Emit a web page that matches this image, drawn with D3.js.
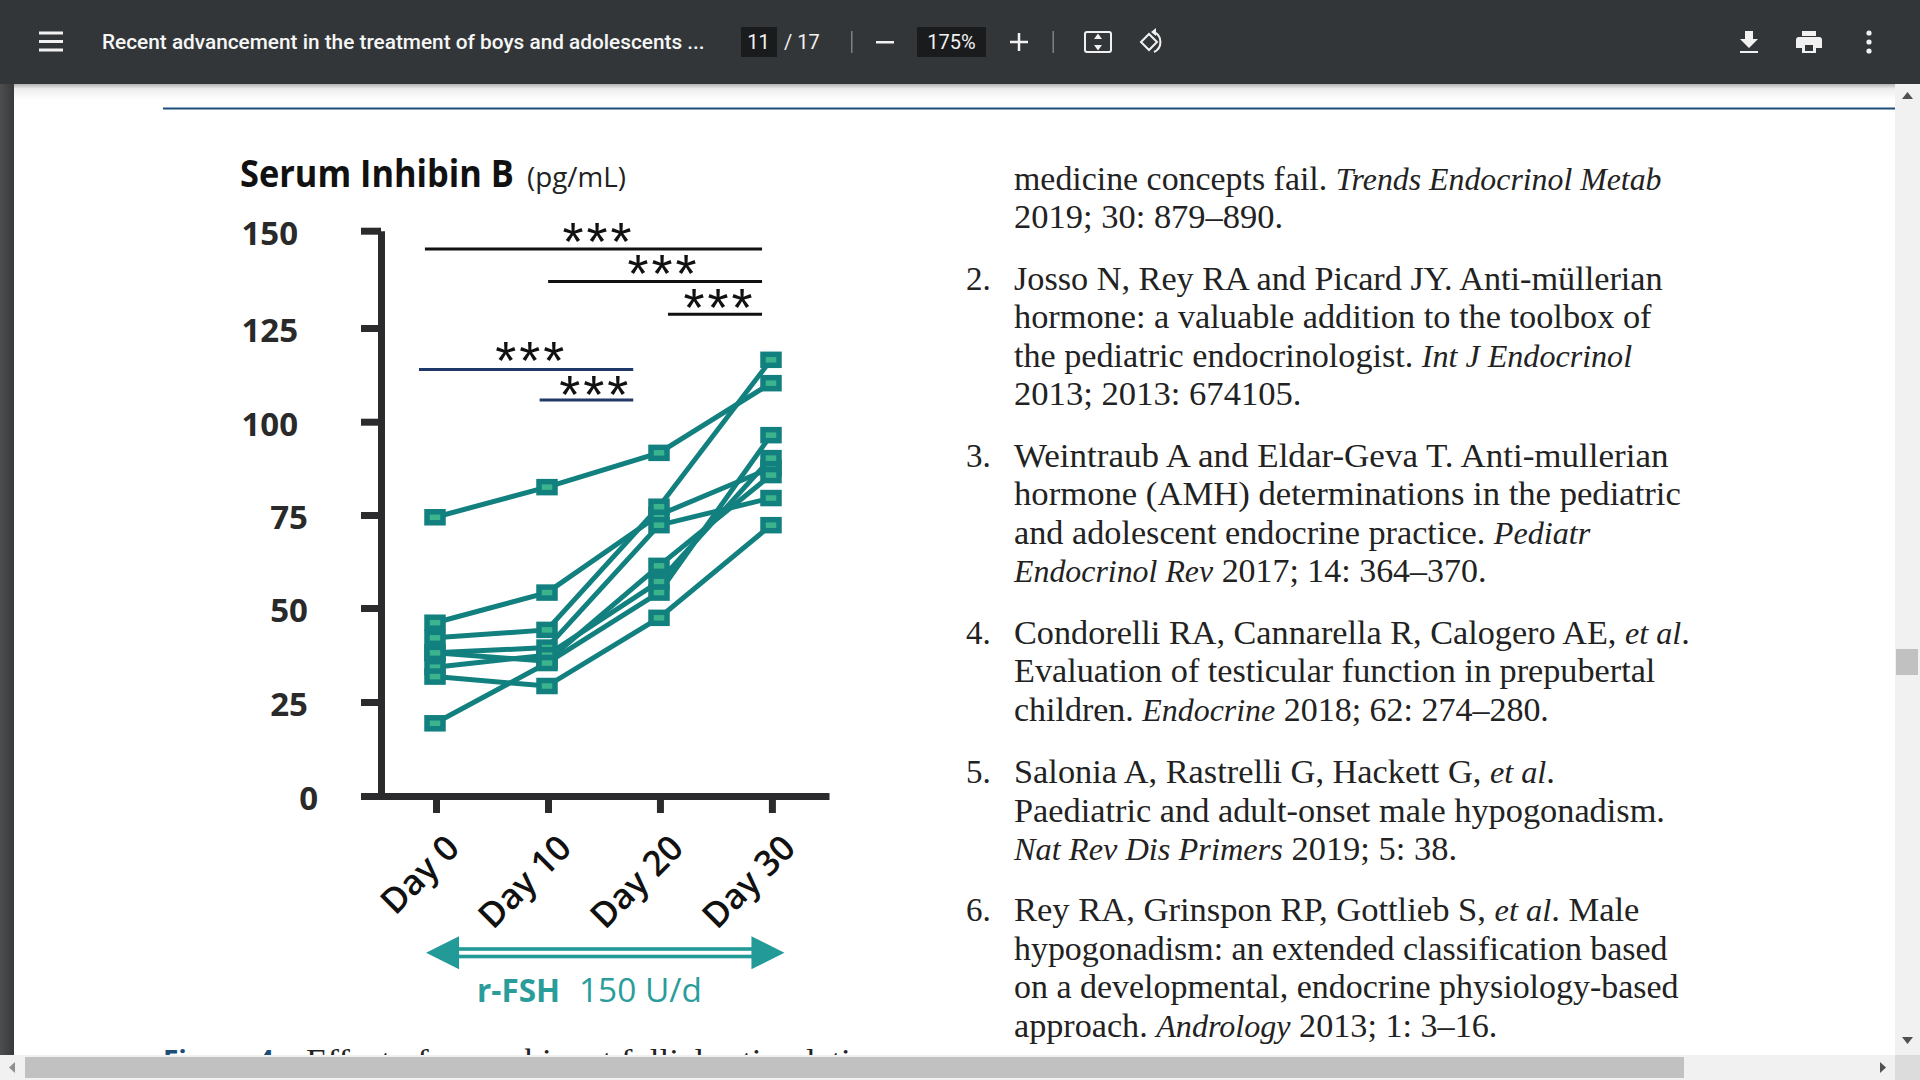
<!DOCTYPE html>
<html>
<head>
<meta charset="utf-8">
<script src="https://cdn.jsdelivr.net/npm/d3@7/dist/d3.min.js"></script>
<style>
html, body { margin: 0; padding: 0; background: #fff; overflow: hidden; }
svg { display: block; }
</style>
</head>
<body>
<svg width="1920" height="1080"></svg>
<script>
const svg = d3.select("svg")
const sans = "'Open Sans', sans-serif"
const teal = "#12807f"

// inhibin B per boy, pg/mL at day 0, 10, 20, 30
const days = [0, 10, 20, 30]
const boys = [
    [74.0, 82.0, 91.1, 109.6],
    [46.0, 54.0, 74.6, 87.1],
    [42.0, 44.1, 76.8, 115.8],
    [38.0, 39.4, 71.9, 79.1],
    [38.0, 35.8, 61.1, 85.2],
    [34.2, 37.4, 56.9, 89.7],
    [19.3, 35.3, 54.0, 95.8],
    [31.7, 29.2, 47.3, 71.9]
]
// significance bars, ends in days and height in pg/mL
const sigBars = [
    {from: -0.9, to: 29.2, level: 145.2, color: "#111", starDay: 14.6, starLevel: 149.2},
    {from: 10.1, to: 29.2, level: 136.6, color: "#111", starDay: 20.4, starLevel: 140.7},
    {from: 20.8, to: 29.2, level: 127.9, color: "#111", starDay: 25.4, starLevel: 131.7},
    {from: -1.43, to: 17.7, level: 113.2, color: "#1f3a68", starDay: 8.6, starLevel: 117.6},
    {from: 9.34, to: 17.7, level: 105.1, color: "#1f3a68", starDay: 14.3, starLevel: 108.6}
]

const references = [
    {y: 190, right: 1357, parts: [["medicine concepts fail. "], ["Trends Endocrinol Metab", 1]]},
    {y: 228, right: 1048, parts: [["2019; 30: 879–890."]]},
    {y: 290, right: 1358, num: "2.", parts: [["Josso N, Rey RA and Picard JY. Anti-müllerian"]]},
    {y: 328, right: 1349, parts: [["hormone: a valuable addition to the toolbox of"]]},
    {y: 367, right: 1333, parts: [["the pediatric endocrinologist. "], ["Int J Endocrinol", 1]]},
    {y: 405, right: 1063, parts: [["2013; 2013: 674105."]]},
    {y: 466.5, right: 1363, num: "3.", parts: [["Weintraub A and Eldar-Geva T. Anti-mullerian"]]},
    {y: 505, right: 1373, parts: [["hormone (AMH) determinations in the pediatric"]]},
    {y: 543.5, right: 1299, parts: [["and adolescent endocrine practice. "], ["Pediatr", 1]]},
    {y: 582, right: 1214, parts: [["Endocrinol Rev", 1], [" 2017; 14: 364–370."]]},
    {y: 644, right: 1380, num: "4.", parts: [["Condorelli RA, Cannarella R, Calogero AE, "], ["et al", 1], ["."]]},
    {y: 682, right: 1352, parts: [["Evaluation of testicular function in prepubertal"]]},
    {y: 721, right: 1265, parts: [["children. "], ["Endocrine", 1], [" 2018; 62: 274–280."]]},
    {y: 782.5, right: 1270, num: "5.", parts: [["Salonia A, Rastrelli G, Hackett G, "], ["et al", 1], ["."]]},
    {y: 822, right: 1360, parts: [["Paediatric and adult-onset male hypogonadism."]]},
    {y: 859.5, right: 1190, parts: [["Nat Rev Dis Primers", 1], [" 2019; 5: 38."]]},
    {y: 921, right: 1339, num: "6.", parts: [["Rey RA, Grinspon RP, Gottlieb S, "], ["et al", 1], [". Male"]]},
    {y: 960, right: 1362, parts: [["hypogonadism: an extended classification based"]]},
    {y: 998, right: 1371, parts: [["on a developmental, endocrine physiology-based"]]},
    {y: 1037, right: 1223, parts: [["approach. "], ["Andrology", 1], [" 2013; 1: 3–16."]]}
]

// text squeezed to a measured width
function fitText(sel, left, width) {
    const y = sel.attr("y")
    const len = sel.node().getComputedTextLength()
    sel.attr("x", 0).attr("y", 0)
       .attr("transform", "translate(" + left + "," + y + ") scale(" + (width / len) + ",1)")
}

function drawPage() {
    const defs = svg.append("defs")
    const strip = defs.append("linearGradient").attr("id", "strip")
    strip.append("stop").attr("offset", 0).attr("stop-color", "#4c4e50")
    strip.append("stop").attr("offset", 1).attr("stop-color", "#37393b")

    svg.append("rect").attr("width", 1920).attr("height", 1080).attr("fill", "#fff")
    svg.append("rect").attr("width", 14).attr("height", 1080).attr("fill", "url(#strip)")
    svg.append("rect").attr("x", 163).attr("y", 107.5).attr("width", 1732).attr("height", 2).attr("fill", "#1d4e79")

    const pageFont = "'Liberation Serif', serif"
    references.forEach(function(r) {
        const t = svg.append("text").attr("y", r.y).attr("font-family", pageFont)
            .attr("font-size", 33).attr("fill", "#222")
        r.parts.forEach(function(p) {
            t.append("tspan").attr("font-style", p[1] ? "italic" : "normal")
                .attr("font-size", p[1] ? 31 : 33).text(p[0])
        })
        fitText(t, 1014, (r.right * 1.2245) - 1014)
        if (r.num) {
            svg.append("text").attr("x", 966).attr("y", r.y).attr("font-family", pageFont)
                .attr("font-size", 33).attr("fill", "#222").text(r.num)
        }
    })

    // caption, cut off by the scrollbar
    svg.append("text").attr("x", 163).attr("y", 1071).attr("font-family", sans).attr("font-weight", 700)
        .attr("font-size", 28).attr("fill", "#1d4e79").text("Figure 4")
    const cap = svg.append("text").attr("y", 1071).attr("font-family", pageFont)
        .attr("font-size", 32).attr("fill", "#222").text("Effect of recombinant follicle stimulati")
    fitText(cap, 306, 545)

    // scrollbars
    svg.append("rect").attr("x", 1895).attr("y", 84).attr("width", 25).attr("height", 996).attr("fill", "#f1f1f1")
    svg.append("rect").attr("y", 1055).attr("width", 1920).attr("height", 25).attr("fill", "#f1f1f1")
    svg.append("rect").attr("x", 1895).attr("y", 1055).attr("width", 25).attr("height", 25).attr("fill", "#dcdcdc")
    svg.append("rect").attr("x", 25).attr("y", 1057).attr("width", 1659).attr("height", 21).attr("fill", "#c1c1c1")
    svg.append("rect").attr("x", 1896).attr("y", 649).attr("width", 22).attr("height", 26).attr("fill", "#c1c1c1")
    const arrows = [
        {d: "M1902,99 L1913,99 L1907.5,92 Z", c: "#505050"},
        {d: "M1902,1037 L1913,1037 L1907.5,1044 Z", c: "#505050"},
        {d: "M15,1062 L15,1073 L9,1067.5 Z", c: "#8f8f8f"},
        {d: "M1880,1062 L1880,1073 L1886,1067.5 Z", c: "#505050"}
    ]
    svg.selectAll(".scrollArrow").data(arrows).enter().append("path").attr("class", "scrollArrow")
        .attr("d", function(d) { return d.d }).attr("fill", function(d) { return d.c })
}

function drawToolbar() {
    const defs = svg.append("defs")
    const grad = defs.append("linearGradient").attr("id", "shade").attr("x1", 0).attr("x2", 0).attr("y1", 0).attr("y2", 1)
    grad.append("stop").attr("offset", 0).attr("stop-color", "#000").attr("stop-opacity", 0.3)
    grad.append("stop").attr("offset", 0.3).attr("stop-color", "#000").attr("stop-opacity", 0.07)
    grad.append("stop").attr("offset", 1).attr("stop-color", "#000").attr("stop-opacity", 0)
    svg.append("rect").attr("x", 14).attr("y", 84).attr("width", 1881).attr("height", 16).attr("fill", "url(#shade)")

    const bar = svg.append("g")
    bar.append("rect").attr("width", 1920).attr("height", 84).attr("fill", "#323639")
    const ui = "Roboto, sans-serif"

    ;[33, 41.5, 50].forEach(function(y) {
        bar.append("rect").attr("x", 39).attr("y", y - 1.5).attr("width", 24).attr("height", 3).attr("fill", "#f1f1f1")
    })
    const title = bar.append("text").attr("y", 48.5).attr("font-family", ui).attr("font-weight", 500)
        .attr("font-size", 21).attr("fill", "#f6f6f6")
        .text("Recent advancement in the treatment of boys and adolescents ...")
    fitText(title, 102, 603)

    bar.append("rect").attr("x", 741).attr("y", 27).attr("width", 36).attr("height", 30).attr("fill", "#191b1c")
    bar.append("text").attr("x", 758.5).attr("y", 49).attr("text-anchor", "middle").attr("font-family", ui)
        .attr("font-size", 20).attr("fill", "#f1f1f1").text("11")
    bar.append("text").attr("x", 784).attr("y", 48.5).attr("font-family", ui)
        .attr("font-size", 20).attr("fill", "#f1f1f1").text("/ 17")
    ;[851, 1052.5].forEach(function(x) {
        bar.append("rect").attr("x", x).attr("y", 31).attr("width", 1.5).attr("height", 22).attr("fill", "#7d8184")
    })
    bar.append("rect").attr("x", 876).attr("y", 41).attr("width", 18).attr("height", 2.5).attr("fill", "#f1f1f1")
    bar.append("rect").attr("x", 917).attr("y", 27).attr("width", 69).attr("height", 30).attr("fill", "#191b1c")
    bar.append("text").attr("x", 951.5).attr("y", 49).attr("text-anchor", "middle").attr("font-family", ui)
        .attr("font-size", 20).attr("fill", "#f1f1f1").text("175%")
    bar.append("path").attr("d", "M1010,42 H1028 M1019,33 V51").attr("stroke", "#f1f1f1").attr("stroke-width", 2.5).attr("fill", "none")

    // fit to page
    bar.append("rect").attr("x", 1085).attr("y", 32).attr("width", 26).attr("height", 20).attr("rx", 2)
        .attr("fill", "none").attr("stroke", "#f1f1f1").attr("stroke-width", 2)
    bar.append("path").attr("d", "M1094,39 L1098,33.5 L1102,39 Z M1094,45 L1098,50.5 L1102,45 Z").attr("fill", "#f1f1f1")
    // rotate
    bar.append("path").attr("d", "M1141,42 L1149,34 L1157,42 L1149,50 Z").attr("fill", "none").attr("stroke", "#f1f1f1").attr("stroke-width", 2)
    bar.append("path").attr("d", "M1154,32 A11,11 0 0 1 1154,52").attr("fill", "none").attr("stroke", "#f1f1f1").attr("stroke-width", 2)
    bar.append("path").attr("d", "M1156,28 L1151,32 L1156,36 Z").attr("fill", "#f1f1f1")

    // download, print, more
    bar.append("path").attr("d", "M1745,31 H1753 V39 H1758 L1749,48 L1740,39 H1745 Z M1740,51 H1758 V53 H1740 Z").attr("fill", "#f1f1f1")
    bar.append("path").attr("d", "M1802,31 H1816 V36 H1802 Z M1799,37 H1819 Q1822,37 1822,40 V48 H1816 V53 H1802 V48 H1796 V40 Q1796,37 1799,37 Z").attr("fill", "#f1f1f1")
    bar.append("rect").attr("x", 1805).attr("y", 45).attr("width", 8).attr("height", 6).attr("fill", "#323639")
    ;[33, 42, 51].forEach(function(y) {
        bar.append("circle").attr("cx", 1869).attr("cy", y).attr("r", 2.6).attr("fill", "#f1f1f1")
    })
}

function drawChart() {
    const scaleX = d3.scaleLinear().domain([0, 30]).range([435, 771])
    const scaleY = d3.scaleLinear().domain([0, 150]).range([796, 231])
    const axisX = d3.scaleLinear().domain([-6.7, 35.1]).range([361, 829])
    // the printed ticks are not quite evenly spaced
    const axisY = d3.scaleLinear().domain([0, 25, 50, 75, 100, 125, 150]).range([796, 702, 608, 515, 421.7, 328, 230.7])

    svg.append("text").attr("x", 0).attr("y", 187).attr("font-family", sans).attr("font-weight", 700)
        .attr("font-size", 37).attr("fill", "#111").attr("id", "title").text("Serum Inhibin B")
    fitText(d3.select("#title"), 240, 274)
    const unit = svg.append("text").attr("y", 187).attr("font-family", sans)
        .attr("font-size", 28).attr("fill", "#222").text("(pg/mL)")
    fitText(unit, 527, 99)

    // axes
    const yAxis = svg.append("g").attr("transform", "translate(381,0)")
        .call(d3.axisLeft(axisY).tickValues([0, 25, 50, 75, 100, 125, 150]).tickSizeInner(20).tickSizeOuter(0))
    const xAxis = svg.append("g").attr("transform", "translate(0,796)")
        .call(d3.axisBottom(axisX).tickValues(days).tickSizeInner(17).tickSizeOuter(0).tickFormat(function(d) { return "Day " + d }))
    ;[yAxis, xAxis].forEach(function(a) {
        a.select(".domain").attr("stroke", "#2b2b2d").attr("stroke-width", 7)
        a.selectAll(".tick line").attr("stroke", "#2b2b2d").attr("stroke-width", 7)
    })
    yAxis.selectAll(".tick text")
        .attr("font-family", sans).attr("font-weight", 700).attr("font-size", 33).attr("fill", "#2a2a2a")
        .attr("x", function(d) { return d >= 100 ? -83 : d >= 10 ? -73 : -63 })
        .attr("dy", "0.42em")
    xAxis.selectAll(".tick text")
        .attr("font-family", sans).attr("font-weight", 600).attr("font-size", 35).attr("fill", "#111")
        .attr("text-anchor", "end").attr("x", 0).attr("y", 0).attr("dy", 0)
        .attr("transform", "translate(25,54) rotate(-45)")

    // the boys
    const line = d3.line().x(function(d, i) { return scaleX(days[i]) }).y(function(d) { return scaleY(d) })
    svg.append("g").selectAll("path").data(boys).enter().append("path")
        .attr("d", line).attr("fill", "none").attr("stroke", teal).attr("stroke-width", 5)
    const points = boys.flatMap(function(b) { return b.map(function(v, i) { return {day: days[i], value: v} }) })
    svg.append("g").selectAll("rect").data(points).enter().append("rect")
        .attr("x", function(d) { return scaleX(d.day) - 8 })
        .attr("y", function(d) { return scaleY(d.value) - 5.5 })
        .attr("width", 16).attr("height", 11)
        .attr("fill", "#3bb48e").attr("stroke", teal).attr("stroke-width", 5.5)

    // significance
    const sig = svg.append("g").selectAll("g").data(sigBars).enter().append("g")
    sig.append("line")
        .attr("x1", function(d) { return scaleX(d.from) }).attr("x2", function(d) { return scaleX(d.to) })
        .attr("y1", function(d) { return scaleY(d.level) }).attr("y2", function(d) { return scaleY(d.level) })
        .attr("stroke", function(d) { return d.color }).attr("stroke-width", 3)
    sig.append("text")
        .attr("x", function(d) { return scaleX(d.starDay) }).attr("y", function(d) { return scaleY(d.starLevel) + 26 })
        .attr("text-anchor", "middle").attr("font-family", "'Liberation Sans', sans-serif")
        .attr("font-size", 54).attr("letter-spacing", 3).attr("fill", "#111").text("***")

    // treatment arrow
    const a0 = scaleX(-0.8), a1 = scaleX(31.2), ay = 952.7
    const arrow = svg.append("g").attr("fill", "#229a98")
    arrow.append("path").attr("d", "M" + a0 + "," + ay + " L" + (a0 + 33) + "," + (ay - 16.5) + " L" + (a0 + 33) + "," + (ay + 16.5) + " Z")
    arrow.append("path").attr("d", "M" + a1 + "," + ay + " L" + (a1 - 33) + "," + (ay - 16.5) + " L" + (a1 - 33) + "," + (ay + 16.5) + " Z")
    ;[949, 956.5].forEach(function(y) {
        arrow.append("rect").attr("x", a0 + 30).attr("y", y - 1.8).attr("width", a1 - a0 - 60).attr("height", 3.6)
    })
    const rfsh = svg.append("text").attr("y", 1002).attr("font-family", sans).attr("font-weight", 700)
        .attr("font-size", 33).attr("fill", "#2a9d9b").text("r-FSH")
    fitText(rfsh, 477, 83)
    const dose = svg.append("text").attr("y", 1002).attr("font-family", sans)
        .attr("font-size", 33).attr("fill", "#2a9d9b").text("150 U/d")
    fitText(dose, 579, 123)
}

drawPage()
drawChart()
drawToolbar()
</script>
</body>
</html>
